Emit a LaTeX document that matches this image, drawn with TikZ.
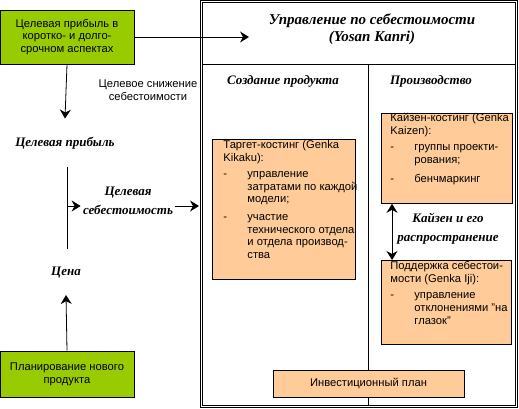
\documentclass[tikz,border=0pt]{standalone}
\usepackage{fontspec}
\setmainfont{Liberation Sans}
\newfontfamily\headfont{Liberation Serif}
\usetikzlibrary{arrows.meta,positioning}

\definecolor{leafgreen}{HTML}{99CC00}
\definecolor{peach}{HTML}{FFCC99}

\tikzset{
  greenbox/.style={draw, fill=leafgreen, minimum width=134pt, align=center, inner sep=0pt},
  peachbox/.style={draw, fill=peach, anchor=north west, inner sep=0pt},
  boxtext/.style={anchor=north west, align=left, inner sep=0pt},
  head/.style={font=\headfont\bfseries\itshape\fontsize{13}{19}\selectfont, align=center, inner sep=2pt},
  bighead/.style={font=\headfont\bfseries\itshape\fontsize{15}{17}\selectfont, align=center},
}
\newcommand{\dash}{\makebox[24pt][l]{-}}
\newcommand{\indt}{\hspace*{24pt}}

\begin{document}
\begin{tikzpicture}[x=1pt, y=-1pt, line width=0.8pt,
    >={Stealth[length=9pt, width=11pt, inset=3pt]},
    every node/.style={font=\fontsize{11.2}{12.6}\selectfont}]
    \useasboundingbox (0,0) rectangle (519,408);

    % Frame of cost management
    \draw (200.5,0.5) rectangle (517.5,407.5);
    \draw (202.8,2.8) rectangle (515.2,405.2);
    \draw (202.8,64.5) -- (515.2,64.5);
    \draw (368,64.5) -- (368,405.2);

    % Headings
    \node[bighead] (mgmt) at (372,29) {Управление по себестоимости\\(Yosan Kanri)};
    \node[head] (design) at (283,81) {Создание продукта};
    \node[head] (prod) at (431,81) {Производство};

    % Left column
    \node[greenbox, minimum height=54pt] (goal) at (67,37)
        {Целевая прибыль в\\коротко- и долго-\\срочном аспектах};
    \node[align=center] (cut) at (148,90) {Целевое снижение\\себестоимости};
    \node[head] (profit) at (65,143) {Целевая прибыль};
    \node[head] (cost) at (128,201) {Целевая\\себестоимость};
    \node[head] (price) at (66,273) {Цена};
    \node[greenbox, minimum height=46pt] (plan) at (67,374)
        {Планирование нового\\продукта};

    \coordinate (mgmt in) at (249,37);
    \coordinate (bar top) at (67,167);
    \coordinate (bar mid) at (67,206);
    \coordinate (bar bot) at (67,249);
    \coordinate (frame in) at (199,206);

    \draw[->] (goal.east |- mgmt in) -- (mgmt in);
    \draw[->] (goal.south) -- ([yshift=16pt]profit.north);
    \draw (bar top) -- (bar bot);
    \draw[->] (bar mid) -- (bar mid -| cost.west);
    \draw[->] (cost.east |- bar mid) -- (frame in);
    \draw[->] (plan.north) -- ([yshift=-14pt]price.south);

    % Target costing
    \node[peachbox, minimum width=143pt, minimum height=140pt] (target) at (212,139) {};
    \node[boxtext] (target text) at ([xshift=11pt, yshift=-1pt]target.north west)
        {Таргет-костинг (Genka\\
         Kikaku):\\[4pt]
         \dash управление\\
         \indt затратами по каждой\\
         \indt модели;\\[5pt]
         \dash участие\\
         \indt технического отдела\\
         \indt и отдела производ-\\
         \indt ства};

    % Kaizen costing
    \node[peachbox, minimum width=131pt, minimum height=90pt] (kaizen) at (381,113) {};
    \node[boxtext] (kaizen text) at ([xshift=9pt, yshift=0pt]kaizen.north west)
        {Кайзен-костинг (Genka\\
         Kaizen):\\[4pt]
         \dash группы проекти-\\
         \indt рования;\\[6pt]
         \dash бенчмаркинг};

    % Cost maintenance
    \node[peachbox, minimum width=130pt, minimum height=84pt] (support) at (381,260) {};
    \node[boxtext] (support text) at ([xshift=9pt, yshift=-1pt]support.north west)
        {Поддержка себестои-\\
         мости (Genka Iji):\\[4pt]
         \dash управление\\
         \indt отклонениями "на\\
         \indt глазок"};

    \draw[<->] ([xshift=11pt]kaizen.south west) -- ([xshift=11pt]support.north west);
    \node[head] (spread) at (448,229) {Кайзен и его\\распространение};

    % Investment plan
    \node[draw, fill=peach, minimum width=191pt, minimum height=27pt] (invest) at (368.5,383.5)
        {Инвестиционный план};
  \end{tikzpicture}
\end{document}
